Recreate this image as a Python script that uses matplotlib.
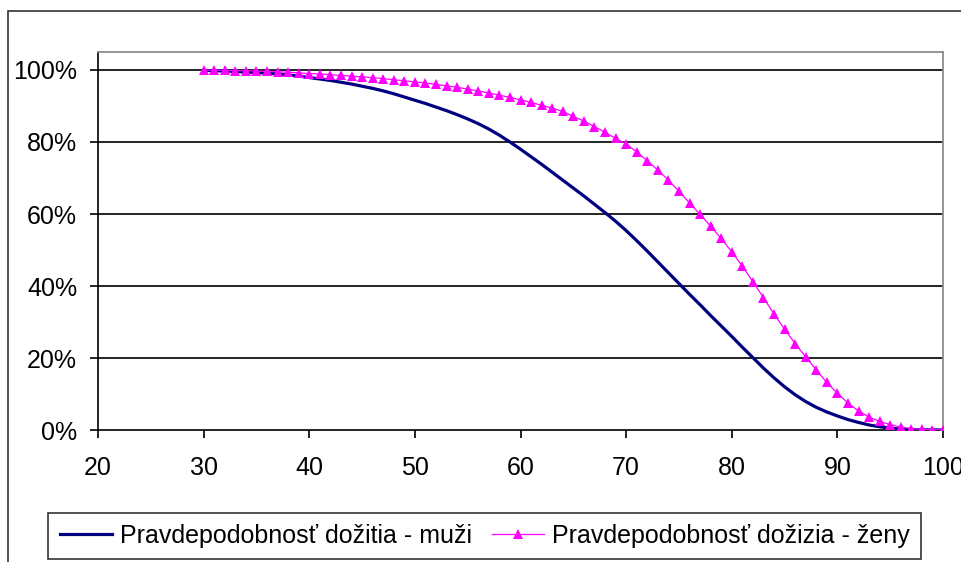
import matplotlib
matplotlib.use('Agg')
import matplotlib.pyplot as plt
from matplotlib.ticker import PercentFormatter, MultipleLocator
from matplotlib.patches import Rectangle

plt.rcParams['font.family'] = ['Liberation Sans', 'DejaVu Sans']

# Age 30..100, survival probability in %
ages = list(range(30, 101))

muzi = [99.9, 99.8, 99.7, 99.6, 99.4, 99.3, 99.1, 98.9, 98.6, 98.3,
        97.9, 97.5, 97.1, 96.6, 96.1, 95.5, 94.9, 94.2, 93.4, 92.5,
        91.6, 90.7, 89.7, 88.7, 87.6, 86.4, 85.1, 83.6, 81.9, 80.0,
        78.0, 75.9, 73.8, 71.6, 69.4, 67.2, 65.0, 62.7, 60.4, 58.0,
        55.4, 52.6, 49.7, 46.7, 43.7, 40.7, 37.7, 34.8, 31.8, 28.9,
        26.0, 23.0, 20.1, 17.2, 14.5, 12.0, 9.8, 7.9, 6.3, 5.0,
        3.9, 2.9, 2.1, 1.4, 0.9, 0.5, 0.25, 0.1, 0.05, 0.02, 0.0]

zeny = [100.0, 99.95, 99.9, 99.85, 99.8, 99.7, 99.6, 99.5, 99.4, 99.2,
        99.0, 98.9, 98.7, 98.5, 98.3, 98.1, 97.9, 97.6, 97.3, 97.0,
        96.7, 96.4, 96.0, 95.6, 95.2, 94.7, 94.2, 93.6, 93.0, 92.4,
        91.7, 91.0, 90.2, 89.4, 88.5, 87.1, 85.8, 84.3, 82.7, 81.0,
        79.5, 77.2, 74.8, 72.2, 69.4, 66.3, 63.1, 59.9, 56.6, 53.2,
        49.5, 45.5, 41.2, 36.8, 32.2, 28.0, 24.0, 20.3, 16.7, 13.2,
        10.2, 7.5, 5.3, 3.6, 2.4, 1.5, 0.8, 0.4, 0.2, 0.1, 0.0]

label_muzi = 'Pravdepodobnosť dožitia - muži'
label_zeny = 'Pravdepodobnosť dožizia - ženy'

W, H = 962, 562
fig = plt.figure(figsize=(W / 100, H / 100), dpi=100)
ax = fig.add_axes([98 / W, (H - 430) / H, (943 - 98) / W, (430 - 52) / H])

ax.plot(ages, [v / 100 for v in muzi], color='#000080', lw=2.3,
        label=label_muzi, zorder=3)
ax.plot(ages, [v / 100 for v in zeny], color='#FF00FF', lw=0.9,
        marker='^', markersize=7, markeredgewidth=0,
        label=label_zeny, zorder=4)

ax.set_xlim(20, 100)
ax.set_ylim(0, 1.05)
ax.xaxis.set_major_locator(MultipleLocator(10))
ax.set_yticks([0, 0.2, 0.4, 0.6, 0.8, 1.0])
ax.yaxis.set_major_formatter(PercentFormatter(1.0, decimals=0))

for y in [0.2, 0.4, 0.6, 0.8, 1.0]:
    ax.axhline(y, color='black', lw=1.2, zorder=1)

for s in ['top', 'right']:
    ax.spines[s].set_color('#8c8c8c')
    ax.spines[s].set_linewidth(1.3)
for s in ['left', 'bottom']:
    ax.spines[s].set_color('black')
    ax.spines[s].set_linewidth(1.2)

ax.tick_params(axis='both', direction='out', length=6, width=1.2,
               labelsize=18, colors='black')
ax.tick_params(axis='y', pad=9)
ax.tick_params(axis='x', pad=13)

# outer chart frame (only left and top edges fall inside the image)
fig.add_artist(Rectangle((8 / W, -0.5), 2.0, (H - 11) / H + 0.5,
                         transform=fig.transFigure, fill=False,
                         edgecolor='#333333', lw=1.2))

leg = fig.legend(loc='center', bbox_to_anchor=((47 + 922) / 2 / W, (H - 536) / H),
                 ncol=2, fontsize=18, frameon=True, fancybox=False,
                 handlelength=2.1, handletextpad=0.3, columnspacing=0.8,
                 borderpad=0.45, borderaxespad=0)
leg.get_frame().set_edgecolor('black')
leg.get_frame().set_linewidth(1.2)

fig.savefig('out.png', dpi=100)
